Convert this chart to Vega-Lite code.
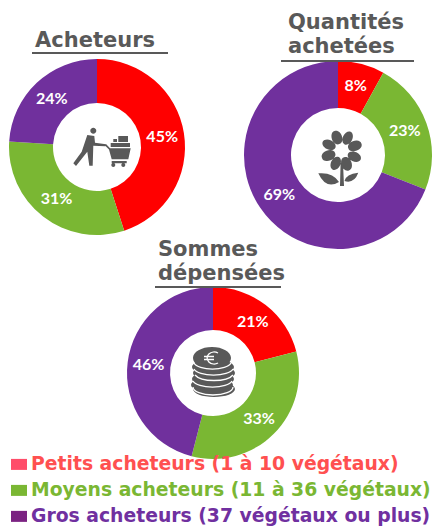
{
"$schema":"https://vega.github.io/schema/vega-lite/v6.json",
"padding":{"left":9,"top":12,"right":0,"bottom":0},
"background":"white",
"spacing":-10,
"config":{"view":{"stroke":null},"title":{"font":"DejaVu Sans","fontWeight":"bold","fontSize":21,"color":"#595959","lineHeight":24,"anchor":"start","align":"left","baseline":"bottom"}},
"datasets":{"parts":[
{"indicateur":"Acheteurs","groupe":"Petits","rang":1,"valeur":0.45},
{"indicateur":"Acheteurs","groupe":"Moyens","rang":2,"valeur":0.31},
{"indicateur":"Acheteurs","groupe":"Gros","rang":3,"valeur":0.24},
{"indicateur":"Quantités","groupe":"Petits","rang":1,"valeur":0.08},
{"indicateur":"Quantités","groupe":"Moyens","rang":2,"valeur":0.23},
{"indicateur":"Quantités","groupe":"Gros","rang":3,"valeur":0.69},
{"indicateur":"Sommes","groupe":"Petits","rang":1,"valeur":0.21},
{"indicateur":"Sommes","groupe":"Moyens","rang":2,"valeur":0.33},
{"indicateur":"Sommes","groupe":"Gros","rang":3,"valeur":0.46}
]},
"vconcat":[
{"hconcat":[
{"width":176,"height":172,"title":{"text":"Acheteurs","dx":26,"offset":1},
"data":{"name":"parts"},"transform":[{"filter":"datum.indicateur==='Acheteurs'"}],
"layer":[
{"mark":{"type":"arc","radius":88,"radius2":44},"encoding":{"theta":{"field":"valeur","type":"quantitative","stack":true,"scale":{"domain":[0,1]}},"order":{"field":"rang"},"color":{"field":"groupe","type":"nominal","legend":null,"scale":{"domain":["Petits","Moyens","Gros"],"range":["#FF0000","#7AB733","#70309D"]}}}},
{"mark":{"type":"text","radius":66,"font":"Lato","fontWeight":"bold","fontSize":16,"color":"white"},"encoding":{"theta":{"field":"valeur","type":"quantitative","stack":true,"scale":{"domain":[0,1]}},"order":{"field":"rang"},"detail":{"field":"groupe"},"text":{"field":"valeur","type":"quantitative","format":".0%"}}},
{"data":{"values":[{"trait":"titre"}]},"mark":{"type":"rule","color":"#595959","strokeWidth":1.8},"encoding":{"x":{"datum":-65,"type":"quantitative","axis":null,"scale":{"domain":[-88,88],"nice":false,"zero":false}},"x2":{"datum":71},"y":{"datum":94,"type":"quantitative","axis":null,"scale":{"domain":[-86,86],"nice":false,"zero":false}}}},
{"data":{"values":[{"icone":"chariot"}]},"mark":{"type":"point","filled":true,"opacity":1,"color":"#595959","size":4,"strokeWidth":0,"shape":"M-3.7 -19.3A3 3 0 1 1 -3.7 -13.3A3 3 0 1 1 -3.7 -19.3ZM-9.7 -12L-2.7 -11L-2 -4.3L9 -2.7L8.3 -0.7L-3.7 -1.3L-4.3 18.7L-7.7 18.7L-9.7 4.7L-21 19L-23.7 16.3L-15.3 4.7ZM9 -3L13 1.3L33.7 1.3L31.3 12.3L14.7 12.3L12 2.5L8 -1.5ZM14.7 14L29.7 14L29.7 16.3L14.7 16.3ZM14.3 18A2 2 0 1 1 18.3 18A2 2 0 1 1 14.3 18ZM24.3 18A2 2 0 1 1 28.3 18A2 2 0 1 1 24.3 18ZM13.7 -4L33 -4L33 0L13.7 0ZM21.3 -11L31 -11L31 -5L21.3 -5ZM16.3 -8L20 -8L20 -5L16.3 -5Z"},"encoding":{}}
]},
{"width":188,"height":188,"title":{"text":["Quantités","achetées"],"dx":44,"offset":3},
"data":{"name":"parts"},"transform":[{"filter":"datum.indicateur==='Quantités'"}],
"layer":[
{"mark":{"type":"arc","radius":94,"radius2":47},"encoding":{"theta":{"field":"valeur","type":"quantitative","stack":true,"scale":{"domain":[0,1]}},"order":{"field":"rang"},"color":{"field":"groupe","type":"nominal","legend":null,"scale":{"domain":["Petits","Moyens","Gros"],"range":["#FF0000","#7AB733","#70309D"]}}}},
{"mark":{"type":"text","radius":71,"font":"Lato","fontWeight":"bold","fontSize":16,"color":"white"},"encoding":{"theta":{"field":"valeur","type":"quantitative","stack":true,"scale":{"domain":[0,1]}},"order":{"field":"rang"},"detail":{"field":"groupe"},"text":{"field":"valeur","type":"quantitative","format":".0%"}}},
{"data":{"values":[{"trait":"titre"}]},"mark":{"type":"rule","color":"#595959","strokeWidth":1.8},"encoding":{"x":{"datum":-57,"type":"quantitative","axis":null,"scale":{"domain":[-94,94],"nice":false,"zero":false}},"x2":{"datum":76},"y":{"datum":94,"type":"quantitative","axis":null,"scale":{"domain":[-94,94],"nice":false,"zero":false}}}},
{"data":{"values":[{"icone":"fleur"}]},"mark":{"type":"point","filled":true,"opacity":1,"color":"#595959","size":4,"strokeWidth":0,"shape":"M1.3 -10.9A7 4.8 -110 1 1 -3.5 -24A7 4.8 -110 1 1 1.3 -10.9ZM6.7 -10.6A7 4.8 -65 1 1 12.6 -23.3A7 4.8 -65 1 1 6.7 -10.6ZM10.3 -6.7A7 4.8 -20 1 1 23.4 -11.5A7 4.8 -20 1 1 10.3 -6.7ZM10 -1.3A7 4.8 25 1 1 22.7 4.6A7 4.8 25 1 1 10 -1.3ZM6.1 2.3A7 4.8 70 1 1 10.9 15.4A7 4.8 70 1 1 6.1 2.3ZM0.7 2A7 4.8 115 1 1 -5.2 14.7A7 4.8 115 1 1 0.7 2ZM-2.9 -1.9A7 4.8 160 1 1 -16 2.9A7 4.8 160 1 1 -2.9 -1.9ZM-2.6 -7.3A7 4.8 205 1 1 -15.3 -13.2A7 4.8 205 1 1 -2.6 -7.3ZM2.6 8L5 8L6 31L2 31ZM-19.7 18.3Q-5 17 1 27Q-12 35 -19.7 18.3ZM20.3 17.7Q8 19 6.5 26Q16 29 20.3 17.7Z"},"encoding":{}}
]}
],"spacing":59},
{"width":408,"height":172,"title":{"text":["Sommes","dépensées"],"dx":149,"offset":2},
"data":{"name":"parts"},"transform":[{"filter":"datum.indicateur==='Sommes'"}],
"layer":[
{"mark":{"type":"arc","radius":86,"radius2":43},"encoding":{"theta":{"field":"valeur","type":"quantitative","stack":true,"scale":{"domain":[0,1]}},"order":{"field":"rang"},"color":{"field":"groupe","type":"nominal","legend":null,"scale":{"domain":["Petits","Moyens","Gros"],"range":["#FF0000","#7AB733","#70309D"]}}}},
{"mark":{"type":"text","radius":65,"font":"Lato","fontWeight":"bold","fontSize":16,"color":"white"},"encoding":{"theta":{"field":"valeur","type":"quantitative","stack":true,"scale":{"domain":[0,1]}},"order":{"field":"rang"},"detail":{"field":"groupe"},"text":{"field":"valeur","type":"quantitative","format":".0%"}}},
{"data":{"values":[{"trait":"titre"}]},"mark":{"type":"rule","color":"#595959","strokeWidth":1.8},"encoding":{"x":{"datum":-58,"type":"quantitative","axis":null,"scale":{"domain":[-204,204],"nice":false,"zero":false}},"x2":{"datum":68},"y":{"datum":86,"type":"quantitative","axis":null,"scale":{"domain":[-86,86],"nice":false,"zero":false}}}},
{"data":{"values":[{"icone":"pieces"}]},"mark":{"type":"point","filled":true,"opacity":1,"color":"#595959","size":4,"strokeWidth":0,"shape":"M-20 -15A19 11 0 1 1 18 -15A19 11 0 1 1 -20 -15ZM-21 -6A21 8 0 1 1 21 -6A21 8 0 1 1 -21 -6ZM-20 0A21 8 0 1 1 22 0A21 8 0 1 1 -20 0ZM-21 6A21 8 0 1 1 21 6A21 8 0 1 1 -21 6ZM-22 12A21 8 0 1 1 20 12A21 8 0 1 1 -22 12ZM-20 16A21 8 0 1 1 22 16A21 8 0 1 1 -20 16Z"},"encoding":{}},
{"data":{"values":[{"icone":"lignes"}]},"mark":{"type":"point","filled":false,"opacity":1,"color":"white","size":4,"strokeWidth":1.3,"shape":"M-19 -10A19 8 0 0 0 18 -10M-19 -4A20 8 0 0 0 20 -4M-18 2A20 8 0 0 0 20 2M-20 8A20 8 0 0 0 19 8M-20 14A20 8 0 0 0 20 14M5 -20A7 6 0 1 0 5 -10M-9 -16.5L1 -16.5M-9 -13.5L1 -13.5"},"encoding":{}}
]},
{"width":431,"height":79,
"data":{"values":[
{"groupe":"Petits","libelle":"Petits acheteurs (1 à 10 végétaux)"},
{"groupe":"Moyens","libelle":"Moyens acheteurs (11 à 36 végétaux)"},
{"groupe":"Gros","libelle":"Gros acheteurs (37 végétaux ou plus)"}]},
"encoding":{"y":{"field":"groupe","type":"nominal","axis":null,"scale":{"type":"point","padding":0.52,"align":0.2,"domain":["Petits","Moyens","Gros"]}}},
"layer":[
{"mark":{"type":"point","filled":true,"opacity":1,"size":4,"strokeWidth":0,"shape":"M-8 -5.5L8 -5.5L8 5.5L-8 5.5Z"},"encoding":{"x":{"datum":10,"type":"quantitative","axis":null,"scale":{"domain":[0,431],"nice":false,"zero":false}},"color":{"field":"groupe","type":"nominal","legend":null,"scale":{"domain":["Petits","Moyens","Gros"],"range":["#FF4D6A","#7AB733","#7B2382"]}}}},
{"mark":{"type":"text","align":"left","font":"DejaVu Sans","fontWeight":"bold","fontSize":18.8},"encoding":{"x":{"datum":22,"type":"quantitative","axis":null,"scale":{"domain":[0,431],"nice":false,"zero":false}},"text":{"field":"libelle"},"color":{"field":"groupe","type":"nominal","legend":null,"scale":{"domain":["Petits","Moyens","Gros"],"range":["#FF5050","#7AB733","#7030A0"]}}}}
],
"resolve":{"scale":{"color":"independent"}}}
]
}
